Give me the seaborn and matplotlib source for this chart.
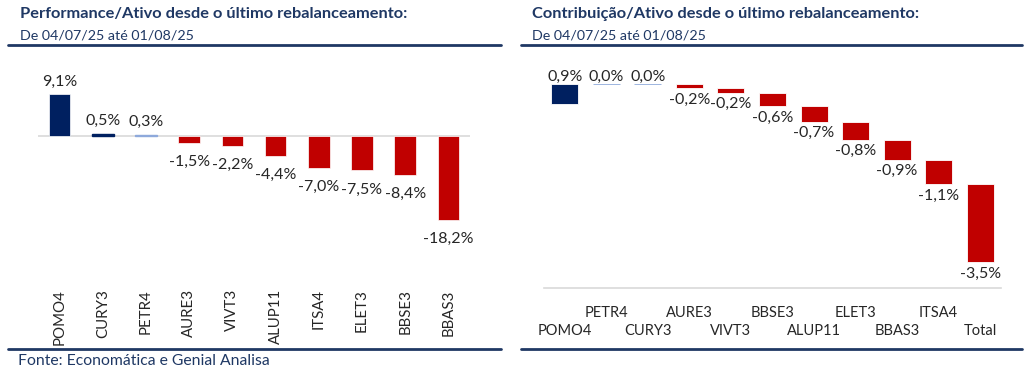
import matplotlib
matplotlib.use("Agg")
import matplotlib.pyplot as plt
import seaborn as sns
import numpy as np
import pandas as pd

# ---- data ----
perf_tickers = ["POMO4", "CURY3", "PETR4", "AURE3", "VIVT3", "ALUP11", "ITSA4", "ELET3", "BBSE3", "BBAS3"]
perf_values = [9.1, 0.5, 0.3, -1.5, -2.2, -4.4, -7.0, -7.5, -8.4, -18.2]

contrib_tickers = ["POMO4", "PETR4", "CURY3", "AURE3", "VIVT3", "BBSE3", "ALUP11", "ELET3", "BBAS3", "ITSA4"]
contrib_values = [0.9, 0.0, 0.0, -0.2, -0.2, -0.6, -0.7, -0.8, -0.9, -1.1]
total_label = "Total"
total_value = -3.5

title_left = "Performance/Ativo desde o último rebalanceamento:"
title_right = "Contribuição/Ativo desde o último rebalanceamento:"
subtitle = "De 04/07/25 até 01/08/25"
footer = "Fonte: Economática e Genial Analisa"

NAVY = "#002060"
RED = "#C00000"
TXT_NAVY = "#1F3864"
EDGE = "#8EA9DB"
GRID = "#D9D9D9"
LBL = "#262626"

sns.set_theme(style="white")
plt.rcParams['font.family'] = ['Lato', 'DejaVu Sans']

W, H = 1024, 373
fig = plt.figure(figsize=(W / 100, H / 100), dpi=100)


def px_axes(x0, y0, x1, y1):
    return fig.add_axes([x0 / W, 1 - y1 / H, (x1 - x0) / W, (y1 - y0) / H])


def fmt(v):
    return f"{v:.1f}%".replace(".", ",")


# ---- left chart ----
axL = px_axes(38, 60, 470, 285)
df_l = pd.DataFrame({"ticker": perf_tickers, "value": perf_values})
colors_l = [NAVY if v > 0 else RED for v in perf_values]
sns.barplot(data=df_l, x="ticker", y="value", hue="ticker", palette=colors_l,
            legend=False, width=0.5, ax=axL, saturation=1,
            edgecolor="white", linewidth=0.5)
for p, v in zip(axL.patches, perf_values):
    if 0 < v < 0.4:
        p.set_facecolor(EDGE)
        p.set_edgecolor(EDGE)
        p.set_linewidth(1)
    elif 0 < v < 1:
        p.set_edgecolor(NAVY)
        p.set_linewidth(1)
axL.set_xlim(-0.5, len(perf_tickers) - 0.5)
axL.set_ylim(-32.4, 16.5)
axL.axhline(0, color=GRID, lw=1.2, zorder=0)
for i, v in enumerate(perf_values):
    if v >= 0:
        axL.text(i, v + 1.2, fmt(v), ha="center", va="bottom", fontsize=11.5, color=LBL)
    else:
        axL.text(i, v - 2.6, fmt(v), ha="center", va="top", fontsize=11.5, color=LBL)
axL.set_xlabel("")
axL.set_ylabel("")
axL.set_yticks([])
axL.tick_params(axis="x", length=0, pad=3, labelsize=10.8, labelcolor=LBL)
axL.set_xticks(range(len(perf_tickers)))
axL.set_xticklabels(perf_tickers, rotation=90, va="top", ha="center")
for s in axL.spines.values():
    s.set_visible(False)

# ---- right chart (waterfall) ----
axR = px_axes(544, 60, 1001, 288)
labels_r = contrib_tickers + [total_label]
cum = np.cumsum([0] + contrib_values)
starts = list(cum[:-1])
ends = list(cum[1:])
bottoms = [min(s, e) for s, e in zip(starts, ends)]
heights = [abs(e - s) for s, e in zip(starts, ends)]
# total bar hangs from the end of the cumulative path
bottoms.append(ends[-1] + total_value)
heights.append(abs(total_value))
vals_r = contrib_values + [total_value]
colors_r = [NAVY if v > 0 else (EDGE if v == 0 else RED) for v in vals_r]
edges_r = [EDGE if v == 0 else "white" for v in vals_r]
axR.bar(range(len(labels_r)), [max(h, 0.015) for h in heights], bottom=bottoms,
        width=0.65, color=colors_r, edgecolor=edges_r, linewidth=0.6)
axR.set_xlim(-0.5, len(labels_r) - 0.5)
axR.set_ylim(-8.25, 1.97)
for i, v in enumerate(vals_r):
    top = bottoms[i] + heights[i]
    if v >= 0:
        axR.text(i, top + 0.02, fmt(v), ha="center", va="bottom", fontsize=11.5, color=LBL)
    else:
        axR.text(i, bottoms[i] - 0.2, fmt(v), ha="center", va="top", fontsize=11.5, color=LBL)
axR.set_yticks([])
axR.set_xticks(range(len(labels_r)))
axR.set_xticklabels(labels_r)
axR.tick_params(axis="x", length=0, labelsize=10.5, labelcolor=LBL)
for i, t in enumerate(axR.xaxis.get_major_ticks()):
    t.set_pad(13 if i % 2 == 1 else 26)
for k, s in axR.spines.items():
    s.set_visible(k == "bottom")
axR.spines["bottom"].set_color(GRID)
axR.spines["bottom"].set_linewidth(1.2)

# ---- titles, lines, footer ----
fig.text(20 / W, 1 - 14 / H, title_left, ha="left", va="center", fontsize=11.8,
         fontweight="bold", color=TXT_NAVY)
fig.text(20 / W, 1 - 35 / H, subtitle, ha="left", va="center", fontsize=10.3, color=TXT_NAVY)
fig.text(532 / W, 1 - 14 / H, title_right, ha="left", va="center", fontsize=11.8,
         fontweight="bold", color=TXT_NAVY)
fig.text(532 / W, 1 - 35 / H, subtitle, ha="left", va="center", fontsize=10.3, color=TXT_NAVY)
fig.text(18 / W, 1 - 361 / H, footer, ha="left", va="center", fontsize=11.3, color=TXT_NAVY)

for (x0, x1, y) in [(8, 501, 45), (521, 1022, 45), (8, 501, 349), (521, 1022, 349)]:
    fig.add_artist(plt.Line2D([x0 / W, x1 / W], [1 - y / H, 1 - y / H],
                              color=TXT_NAVY, lw=2, transform=fig.transFigure))

fig.savefig("out.png", dpi=100)
